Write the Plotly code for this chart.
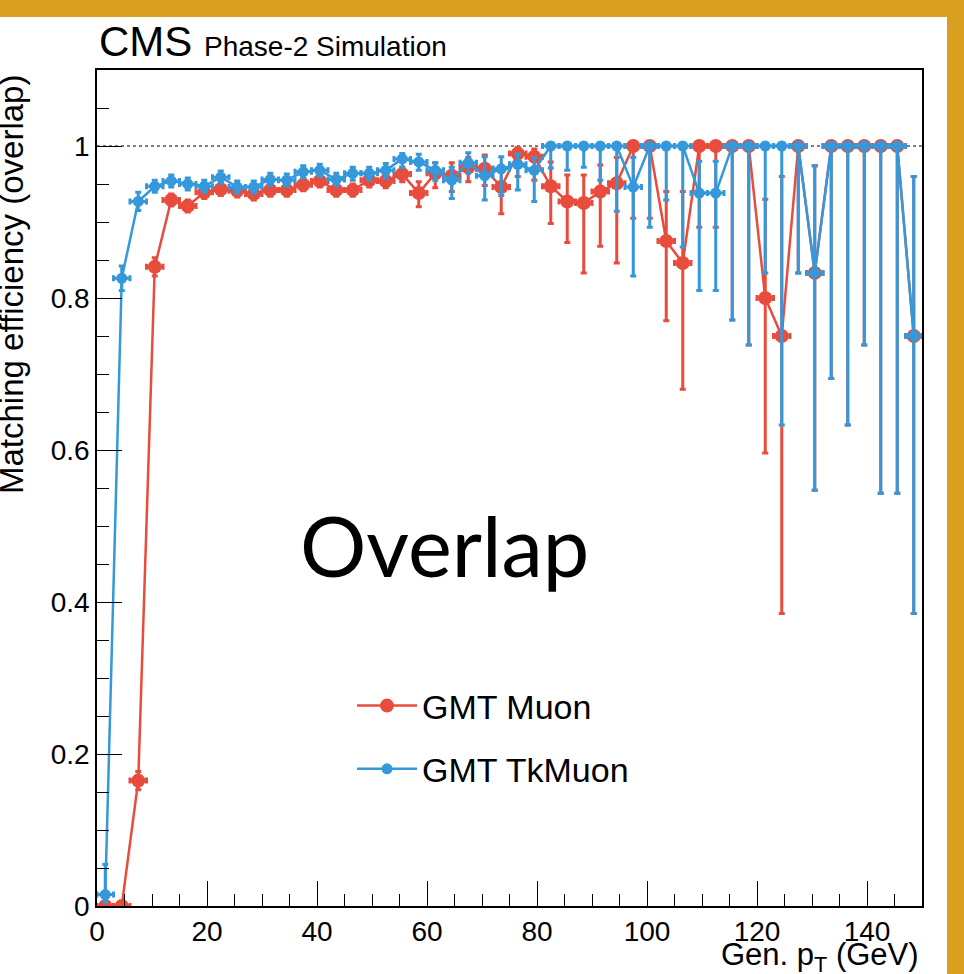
import plotly.graph_objects as go

# ---------------- data ----------------
bin_lo_edges = [3 * k for k in range(50)]
bin_half_width = 1.5
pt_centers = [e + bin_half_width for e in bin_lo_edges]

muon_eff = [0.0, 0.0, 0.165, 0.841, 0.929, 0.921, 0.939, 0.943, 0.941, 0.937,
            0.942, 0.942, 0.949, 0.954, 0.942, 0.942, 0.955, 0.954, 0.963, 0.938,
            0.964, 0.961, 0.972, 0.970, 0.946, 0.990, 0.986, 0.947, 0.927, 0.925,
            0.940, 0.951, 1.0, 1.0, 0.875, 0.846, 1.0, 1.0, 1.0, 1.0,
            0.800, 0.750, 1.0, 0.833, 1.0, 1.0, 1.0, 1.0, 1.0, 0.750]
muon_low = [0.0, 0.0, 0.153, 0.829, 0.921, 0.913, 0.931, 0.935, 0.933, 0.929,
            0.934, 0.934, 0.941, 0.946, 0.934, 0.934, 0.946, 0.945, 0.953, 0.920,
            0.945, 0.940, 0.953, 0.948, 0.911, 0.960, 0.955, 0.898, 0.873, 0.833,
            0.868, 0.846, 0.905, 0.905, 0.770, 0.680, 0.893, 0.893, 0.771, 0.738,
            0.596, 0.385, 0.833, 0.547, 0.694, 0.633, 0.738, 0.543, 0.543, 0.385]
muon_high = [0.004, 0.004, 0.177, 0.853, 0.937, 0.929, 0.947, 0.951, 0.949, 0.945,
             0.950, 0.950, 0.957, 0.962, 0.950, 0.950, 0.963, 0.963, 0.972, 0.953,
             0.978, 0.978, 0.985, 0.988, 0.970, 0.998, 0.996, 0.979, 0.962, 0.962,
             0.975, 0.985, 1.0, 1.0, 0.940, 0.940, 1.0, 1.0, 1.0, 1.0,
             0.930, 0.960, 1.0, 0.974, 1.0, 1.0, 1.0, 1.0, 1.0, 0.960]

tkmuon_eff = [0.015, 0.826, 0.927, 0.947, 0.954, 0.950, 0.947, 0.959, 0.946, 0.946,
              0.956, 0.955, 0.966, 0.968, 0.956, 0.964, 0.964, 0.968, 0.983, 0.979,
              0.968, 0.955, 0.978, 0.961, 0.970, 0.976, 0.968, 1.0, 1.0, 1.0,
              1.0, 1.0, 0.946, 1.0, 1.0, 1.0, 0.938, 0.938, 1.0, 1.0,
              1.0, 1.0, 1.0, 0.833, 1.0, 1.0, 1.0, 1.0, 1.0, 0.750]
tkmuon_low = [0.005, 0.810, 0.915, 0.939, 0.946, 0.942, 0.939, 0.951, 0.938, 0.938,
              0.948, 0.947, 0.958, 0.960, 0.948, 0.955, 0.955, 0.958, 0.972, 0.968,
              0.955, 0.931, 0.964, 0.929, 0.935, 0.942, 0.927, 0.971, 0.968, 0.972,
              0.955, 0.914, 0.829, 0.893, 0.929, 0.867, 0.810, 0.810, 0.771, 0.738,
              0.833, 0.633, 0.833, 0.547, 0.694, 0.633, 0.738, 0.543, 0.543, 0.385]
tkmuon_high = [0.055, 0.842, 0.939, 0.955, 0.962, 0.958, 0.955, 0.967, 0.954, 0.954,
               0.964, 0.963, 0.974, 0.976, 0.964, 0.972, 0.972, 0.977, 0.990, 0.989,
               0.978, 0.972, 0.991, 0.986, 0.986, 0.990, 0.985, 1.0, 1.0, 1.0,
               1.0, 1.0, 0.985, 1.0, 1.0, 1.0, 0.980, 0.980, 1.0, 1.0,
               1.0, 1.0, 1.0, 0.974, 1.0, 1.0, 1.0, 1.0, 1.0, 0.960]

x_tick_vals = [0, 20, 40, 60, 80, 100, 120, 140]
y_tick_vals = [0, 0.2, 0.4, 0.6, 0.8, 1.0]
y_tick_text = ["0", "0.2", "0.4", "0.6", "0.8", "1"]

RED = "#e74c3c"
BLUE = "#3498db"
GOLD = "#D9A01F"
FONT = "Liberation Sans, Arial, Helvetica, sans-serif"

# ---------------- figure ----------------
W, H = 964, 974
L, R, T, B = 97, 42, 70, 68
pw, ph = W - L - R, H - T - B


def px_to_paper_x(px):
    return (px - L) / pw


def py_to_paper_y(py):
    return (H - B - py) / ph


def err_arrays(vals, lo, hi):
    return ([h - v for v, h in zip(vals, hi)], [v - l for v, l in zip(vals, lo)])


fig = go.Figure()

for name, vals, lo, hi, color, msize, grp in [
    ("GMT Muon", muon_eff, muon_low, muon_high, RED, 14, "a"),
    ("GMT TkMuon", tkmuon_eff, tkmuon_low, tkmuon_high, BLUE, 11, "b"),
]:
    eplus, eminus = err_arrays(vals, lo, hi)
    fig.add_trace(go.Scatter(
        x=pt_centers, y=vals, name=name, mode="lines+markers",
        legendgroup=grp,
        line=dict(color=color, width=2.5),
        marker=dict(color=color, size=msize, symbol="circle"),
        error_y=dict(type="data", symmetric=False, array=eplus, arrayminus=eminus,
                     color=color, thickness=3, width=3),
        error_x=dict(type="constant", value=bin_half_width, color=color,
                     thickness=3, width=3),
    ))

fig.update_layout(
    width=W, height=H,
    margin=dict(l=L, r=R, t=T, b=B, pad=0),
    paper_bgcolor="white", plot_bgcolor="white",
    font=dict(family=FONT, size=28, color="black"),
    showlegend=True,
    legend=dict(x=px_to_paper_x(352), y=py_to_paper_y(677), xanchor="left", yanchor="top",
                bgcolor="rgba(0,0,0,0)", font=dict(size=34, family=FONT),
                tracegroupgap=16, itemwidth=60),
)

fig.update_xaxes(
    range=[0, 150], tickvals=x_tick_vals, ticks="inside", ticklen=25, tickwidth=1.2,
    tickcolor="black", showline=True, linecolor="black", linewidth=1.5, mirror=True,
    showgrid=False, zeroline=False,
    minor=dict(dtick=5, tick0=0, ticks="inside", ticklen=12, tickwidth=1.2, tickcolor="black"),
    tickfont=dict(size=28, family=FONT),
)
fig.update_yaxes(
    range=[0, 1.1], tickvals=y_tick_vals, ticktext=y_tick_text, ticks="inside", ticklen=25,
    tickwidth=1.2, tickcolor="black", showline=True, linecolor="black", linewidth=1.5,
    mirror=True, showgrid=False, zeroline=False,
    minor=dict(dtick=0.05, tick0=0, ticks="inside", ticklen=12, tickwidth=1.2, tickcolor="black"),
    tickfont=dict(size=28, family=FONT),
)

# dashed line at efficiency = 1
fig.add_shape(type="line", xref="x", yref="y", x0=0, x1=150, y0=1, y1=1,
              line=dict(color="black", width=1.2, dash="3px,3px"), layer="below")

# golden frame (top and right bands)
fig.add_shape(type="rect", xref="paper", yref="paper",
              x0=px_to_paper_x(-5), x1=px_to_paper_x(970),
              y0=py_to_paper_y(17), y1=py_to_paper_y(-5),
              fillcolor=GOLD, line=dict(width=0), layer="above")
fig.add_shape(type="rect", xref="paper", yref="paper",
              x0=px_to_paper_x(947), x1=px_to_paper_x(970),
              y0=py_to_paper_y(980), y1=py_to_paper_y(-5),
              fillcolor=GOLD, line=dict(width=0), layer="above")

# texts
fig.add_annotation(xref="paper", yref="paper", x=0, y=py_to_paper_y(67),
                   xanchor="left", yanchor="bottom", showarrow=False,
                   text="CMS <span style='font-size:28px'>Phase-2 Simulation</span>",
                   font=dict(size=42, family=FONT))
fig.add_annotation(xref="paper", yref="paper", x=px_to_paper_x(11), y=py_to_paper_y(285),
                   xanchor="center", yanchor="middle", showarrow=False, textangle=-90,
                   text="Matching efficiency (overlap)", font=dict(size=33, family=FONT))
fig.add_annotation(xref="paper", yref="paper", x=px_to_paper_x(921), y=py_to_paper_y(935),
                   xanchor="right", yanchor="top", showarrow=False,
                   text="Gen. p<sub>T</sub> (GeV)", font=dict(size=31, family=FONT))
fig.add_annotation(xref="paper", yref="paper", x=px_to_paper_x(444), y=py_to_paper_y(545),
                   xanchor="center", yanchor="middle", showarrow=False,
                   text="Overlap", font=dict(size=83, family="Lato, sans-serif"))

fig.write_html("out.html")
